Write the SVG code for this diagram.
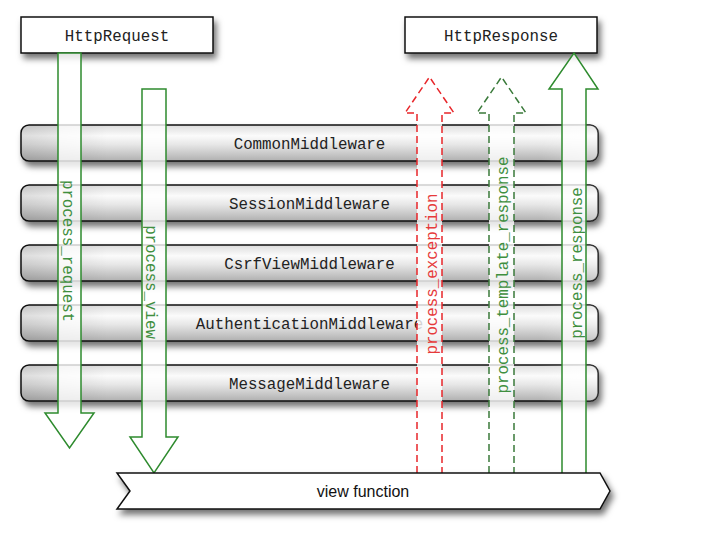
<svg xmlns="http://www.w3.org/2000/svg" width="712" height="540" viewBox="0 0 712 540">
<defs>
<filter id="sh" x="-10%" y="-30%" width="120%" height="180%">
<feDropShadow dx="3" dy="5" stdDeviation="3" flood-color="#000" flood-opacity="0.55"/>
</filter>
<linearGradient id="bar" x1="0" y1="0" x2="0" y2="1">
<stop offset="0" stop-color="#dcdcdc"/>
<stop offset="0.3" stop-color="#fbfbfb"/>
<stop offset="0.55" stop-color="#e6e6e6"/>
<stop offset="1" stop-color="#b0b0b0"/>
</linearGradient>
<linearGradient id="barh" x1="0" y1="0" x2="1" y2="0">
<stop offset="0" stop-color="#000" stop-opacity="0.12"/>
<stop offset="0.15" stop-color="#000" stop-opacity="0"/>
<stop offset="0.9" stop-color="#fff" stop-opacity="0"/>
<stop offset="1" stop-color="#fff" stop-opacity="0.3"/>
</linearGradient>
</defs>
<style>
.box{fill:#fff;stroke:#111;stroke-width:1.5}
.bar{fill:url(#bar);stroke:#111;stroke-width:1.5}
.barh{fill:url(#barh);stroke:none}
.mono{font-family:"Liberation Mono","Courier New",monospace;font-size:15.8px}
.lbl{fill:#222;text-anchor:middle}
.arr{fill:#fff;fill-opacity:0.8;stroke-width:1.5}
.g{stroke:#2e8b2e}
.r{stroke:#e8262a;stroke-dasharray:7 4}
.gd{stroke:#3a7a3a;stroke-dasharray:7 4}
.tg{fill:#3f8f3f;text-anchor:middle}
.tr{fill:#e63a3a;text-anchor:middle}
.sans{font-family:"Liberation Sans",Arial,sans-serif;font-size:16px;fill:#111;text-anchor:middle}
</style>
<rect width="712" height="540" fill="#fff"/>
<g id="HttpRequest">
<rect class="box" x="21" y="17" width="192" height="36" filter="url(#sh)"/>
<text class="mono lbl" x="117" y="41">HttpRequest</text>
</g>
<g id="HttpResponse">
<rect class="box" x="405" y="17" width="192" height="36" filter="url(#sh)"/>
<text class="mono lbl" x="501" y="41">HttpResponse</text>
</g>
<g id="CommonMiddleware">
<rect class="bar" x="21" y="125" width="577" height="36" rx="8" filter="url(#sh)"/>
<rect class="barh" x="21" y="125" width="577" height="36" rx="8"/>
<text class="mono lbl" x="309.5" y="148.5">CommonMiddleware</text>
</g>
<g id="SessionMiddleware">
<rect class="bar" x="21" y="185" width="577" height="36" rx="8" filter="url(#sh)"/>
<rect class="barh" x="21" y="185" width="577" height="36" rx="8"/>
<text class="mono lbl" x="309.5" y="208.5">SessionMiddleware</text>
</g>
<g id="CsrfViewMiddleware">
<rect class="bar" x="21" y="245" width="577" height="36" rx="8" filter="url(#sh)"/>
<rect class="barh" x="21" y="245" width="577" height="36" rx="8"/>
<text class="mono lbl" x="309.5" y="268.5">CsrfViewMiddleware</text>
</g>
<g id="AuthenticationMiddleware">
<rect class="bar" x="21" y="305" width="577" height="36" rx="8" filter="url(#sh)"/>
<rect class="barh" x="21" y="305" width="577" height="36" rx="8"/>
<text class="mono lbl" x="309.5" y="328.5">AuthenticationMiddleware</text>
</g>
<g id="MessageMiddleware">
<rect class="bar" x="21" y="365" width="577" height="36" rx="8" filter="url(#sh)"/>
<rect class="barh" x="21" y="365" width="577" height="36" rx="8"/>
<text class="mono lbl" x="309.5" y="388.5">MessageMiddleware</text>
</g>
<g id="connectors">
<path class="arr g" d="M58,53 H81 V413 H94 L69.5,448 L45,413 H58 Z"/>
<text class="mono tg" transform="translate(63,251) rotate(90)">process_request</text>
<path class="arr g" d="M142,89 H166 V437 H178 L154,473 L130,437 H142 Z"/>
<text class="mono tg" transform="translate(145.5,282) rotate(90)">process_view</text>
<path class="arr r" d="M417,473 V113 H405 L429.5,77 L454,113 H442 V473"/>
<text class="mono tr" transform="translate(436.5,274) rotate(-90)">process_exception</text>
<path class="arr gd" d="M489,473 V113 H477 L501.5,77 L526,113 H514 V473"/>
<text class="mono tg" transform="translate(508,275) rotate(-90)">process_template_response</text>
<path class="arr g" d="M562,473 V89 H549 L574,53 L598,89 H586 V473"/>
<text class="mono tg" transform="translate(581.5,263) rotate(-90)">process_response</text>
</g>
<g id="view_function">
<path class="box" d="M117,473 H600 L610,491 L600,509 H117 L130,491 Z" filter="url(#sh)"/>
<text class="sans" x="363" y="497">view function</text>
</g>
</svg>
